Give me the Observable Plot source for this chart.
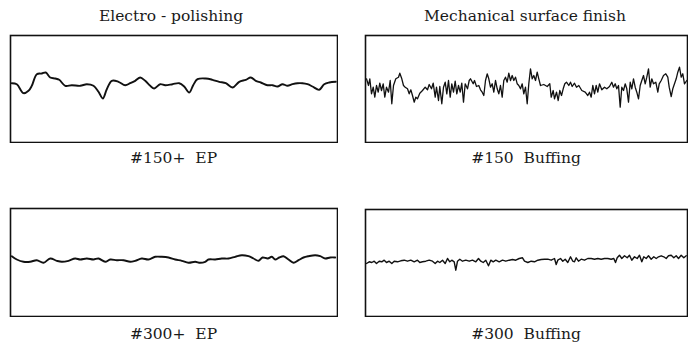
<!DOCTYPE html>
<html>
<head>
<meta charset="utf-8">
<script src="https://cdn.jsdelivr.net/npm/d3@7"></script>
<script src="https://cdn.jsdelivr.net/npm/@observablehq/plot@0.6"></script>
<style>
  html, body { margin: 0; padding: 0; background: #fff; }
  #root { position: relative; width: 688px; height: 350px; overflow: hidden; background: #fff; }
  .txt { position: absolute; font-family: "DejaVu Serif", "Liberation Serif", serif; font-size: 15.5px; line-height: 16px; color: #1a1a1a; text-align: center; white-space: pre; }
  .panel { position: absolute; }
</style>
</head>
<body>
<div id="root"></div>
<script>
// Column headings and panel captions
const columnTitles = ["Electro - polishing", "Mechanical surface finish"];
const panelLabels = ["#150+  EP", "#150  Buffing", "#300+  EP", "#300  Buffing"];

// Surface-profile traces: position along the trace, height within the frame
const ep150X = [1.3,6.3,13,18,21.3,26.3,31.3,35.3,39.7,44.7,48.7,54.7,61.3,69.7,76.3,83,88,92.3,96.3,101.3,108,114.7,119.7,124.7,129.7,134.7,139.7,143.7,149.7,154.7,162,168.7,173.7,178.7,182.7,187,195.3,202,208.7,215.3,222,228.7,235.3,240.3,245.3,250.3,257,262,267,272,277,282,287,292,297,302,308.7,313.7,318.7,325.3];
const ep150Y = [59.3,58.3,49.3,51.7,56.7,68.3,69,70,65,64,62.7,56.7,57.3,56.7,58.3,56.7,50.7,44,53.3,61.7,60.7,57.3,59.3,61.7,65,61.7,56.7,54,58.3,57.3,58.3,59.3,56,50,57.3,63.3,64,62.7,60.7,59.3,55,60.7,62.7,65,61.7,60,57.3,57.3,56,58.3,56.7,58.3,59.3,59.3,58.3,56,52.7,58.3,60,60.7];

const buff150X = [1,3,4.3,6,7.7,9.3,11,12.7,14.3,16,17.7,19.3,21,23,24.7,26.3,28,30.3,33,34.3,36.3,38,39.7,42,43.7,45.3,47,48.7,50.3,52,54.3,57,59.7,62,63.7,66,67.7,69.7,71,73,74.3,76.3,78,79.7,81.3,83,84.7,86.3,88,89.7,91.3,93,94.7,96.3,98,99.7,102,103.7,105,107.7,109,111,113.3,115,116.7,118.3,120,121.7,123.3,125,126.7,128.3,130,131.7,133.3,135,136.7,138.3,140,141.7,143.3,145,146.7,148.3,150,151.7,153.3,155,156.7,158.3,160,161.7,163.3,165,166.7,168.3,170,171.7,173.3,175,178.3,181.7,184.3,185.7,187.7,189,191,192.7,194.3,196,197.7,199.3,201,203.3,205,206.7,209,211,213.3,216.3,219.7,222.3,224,225.7,227.3,229,230.7,232.3,234,236.3,239,241.3,244,246.3,248,249.7,251.3,253,254.7,256.3,258,259.7,261.3,263,264.7,266.3,268,269.7,271.3,273,274.7,276.3,278,279.7,281.3,283,284.7,286.3,288,290.3,292.3,293.7,295.7,298,300.3,302.3,303.7,305.7,307.3,309,310.7,312.3,314,315.7,317.3,319,321.3];
const buff150Y = [63.7,57,63.7,48.7,55.3,45.3,57,50.3,59.3,52,58.7,45.3,55.3,50.3,62,38.7,57,63.7,65.3,69.3,63.7,57,55.3,53.7,48.7,52.7,47,40.3,45.3,43.7,49.3,52,55.3,52.7,58,53.7,59.3,45.3,55.3,42,56,38.7,55.3,60.3,48.7,62,45.3,58.7,50.3,61.3,48.7,57,50.3,59.3,40.3,58.7,53.7,62,63.7,58.7,62,56,57,52.7,50.3,47,62,68.7,63.7,55.3,58.7,50.3,62,53.7,48.7,57,45.3,62,65.3,60.3,69.3,62,67,62,65.3,58.7,57,53.7,58.7,48.7,55.3,38.7,58.7,73.7,63.7,67,62,70.3,63.7,57,58,56,58.7,45.3,52,43.7,50.3,42,52,47,53.7,58.7,60.3,57,60.3,56,59.3,55.3,57,52,50.3,47,50.3,45.3,57,48.7,57,50.3,58.7,52.7,55.3,53.7,56,60.3,55.3,58.7,53.7,57,35.3,55.3,52,58.7,53.7,40.3,60.3,53.7,63.7,55.3,50.3,43.7,57,62,67,58.7,65.3,73.7,55.3,63.7,58.7,60.3,50.3,58.7,62,67,68.7,65.3,55.3,46,53.7,58.7,63.7,70.3,75.3,65.3,68.7,58.7,62];

const ep300X = [1.3,6.3,13,19.7,26.3,33,39.7,46.3,51.3,58,64.7,69.7,76.3,83,88,94.7,99.7,106.3,113,119.7,124.7,131.3,138,144.7,151.3,158,164.7,171.3,178,184.7,189.7,194.7,198,204.7,211.3,218,224.7,231.3,238,243,248,252,257.3,261.3,264.7,268.7,273,278,283,288,293,298,304.7,309.7,314.7,319.7,324.7];
const ep300Y = [60.3,57,54.7,54.7,56.3,53.7,58,55.7,54.7,55.7,58,57,58,57,58,54.7,57,56.3,56.3,54.7,55.7,58,57,59.7,59.7,59,57,55.7,53.7,54.7,53.7,54.7,57,57,58,58,59.7,61.3,60.3,58,55.7,59,58,59.7,57,59,60.3,57,53.7,56.3,59,60.3,61.3,60.3,58,59,59];

const buff300X = [1,3.7,6.3,8.7,11,13.7,16.3,18.7,21,23.7,26.3,28.7,32,35.3,38.7,42,45.3,48.7,52,54.3,57,60.3,63.7,67,69.7,72,74.3,77,79.7,82,84.3,86.3,88.7,90.3,92,94.3,97,100.3,103.7,107,110.3,113,115.3,117.7,120.3,123,125.3,127.7,130.3,133.7,137,140.3,143.7,147,150.3,153.7,157,159,162.3,165.7,169,172.3,175.7,179,182.3,185.7,189,190.7,192.3,195,197.3,199.7,202.3,205,207.3,209,210.7,213,215.7,219,222.3,225.7,229,232.3,235.7,239,242.3,245.7,248.3,250,251.7,254,256.3,259,261.7,264,266.3,269,271.7,274,276.3,278.3,280.7,283,285.7,288.3,290.7,293,295.7,298.3,300.7,303,305.7,308.3,310.7,313,315.7,318.3,320.7];
const buff300Y = [53,54.7,54,55.3,53,55.3,54.7,56.3,54,55.3,53,55.3,54.7,55.7,56.3,55.3,56.3,54.7,56.3,54,54.7,55.3,56.3,55.3,53,55.3,54,56.3,53,58,54.7,56.3,54.7,46.3,55.3,57.3,55.3,56.3,55.3,56.3,54.7,58,55.3,54,56.3,50.7,56.3,54.7,56.3,54.7,56.3,55.3,56.3,57,56.3,58,58.7,55.3,54,55.3,54.7,56.3,57,57.3,57.3,56.3,58,52,56.3,58,55.3,57.3,54,59.7,55.3,54.7,58.7,55.3,57.3,56.3,58,58,57.3,58,57.3,58,58,57.3,58,54,58.7,61.3,58,60.7,58.7,61.3,56.3,59.7,58,61.3,54.7,59.7,58,60.7,57.3,59.7,58,59.7,60.7,59.7,58,60.7,61.3,58.7,60.7,58,61.3,58.7,60.7];

const panels = [
  {xs: ep150X, ys: ep150Y, left: 10, top: 35, w: 327, h: 107, sw: 1.9, curve: "catmull-rom", label: panelLabels[0], labelTop: 150},
  {xs: buff150X, ys: buff150Y, left: 365, top: 35, w: 322, h: 107, sw: 1.3, curve: "linear", label: panelLabels[1], labelTop: 150},
  {xs: ep300X, ys: ep300Y, left: 10, top: 208, w: 327, h: 108, sw: 1.9, curve: "catmull-rom", label: panelLabels[2], labelTop: 326},
  {xs: buff300X, ys: buff300Y, left: 365, top: 209, w: 322, h: 107, sw: 1.4, curve: "linear", label: panelLabels[3], labelTop: 326}
];

const root = document.getElementById("root");

function addText(str, cx, top) {
  const d = document.createElement("div");
  d.className = "txt";
  d.textContent = str;
  d.style.left = (cx - 150) + "px";
  d.style.width = "300px";
  d.style.top = top + "px";
  root.appendChild(d);
}

addText(columnTitles[0], 171, 8);
addText(columnTitles[1], 525, 8);

for (const p of panels) {
  const data = p.xs.map((x, i) => ({x, y: p.ys[i]}));
  const chart = Plot.plot({
    width: p.w + 2,
    height: p.h + 2,
    margin: 1,
    x: {domain: [0, p.w], axis: null},
    y: {domain: [0, p.h], axis: null},
    marks: [
      Plot.frame({stroke: "#111", strokeWidth: 1.6}),
      Plot.line(data, {x: "x", y: "y", stroke: "#111", strokeWidth: p.sw, curve: p.curve, strokeLinejoin: "round"})
    ]
  });
  const wrap = document.createElement("div");
  wrap.className = "panel";
  wrap.style.left = (p.left - 1) + "px";
  wrap.style.top = (p.top - 1) + "px";
  wrap.appendChild(chart);
  root.appendChild(wrap);
  addText(p.label, p.left + p.w / 2, p.labelTop);
}
</script>
</body>
</html>
